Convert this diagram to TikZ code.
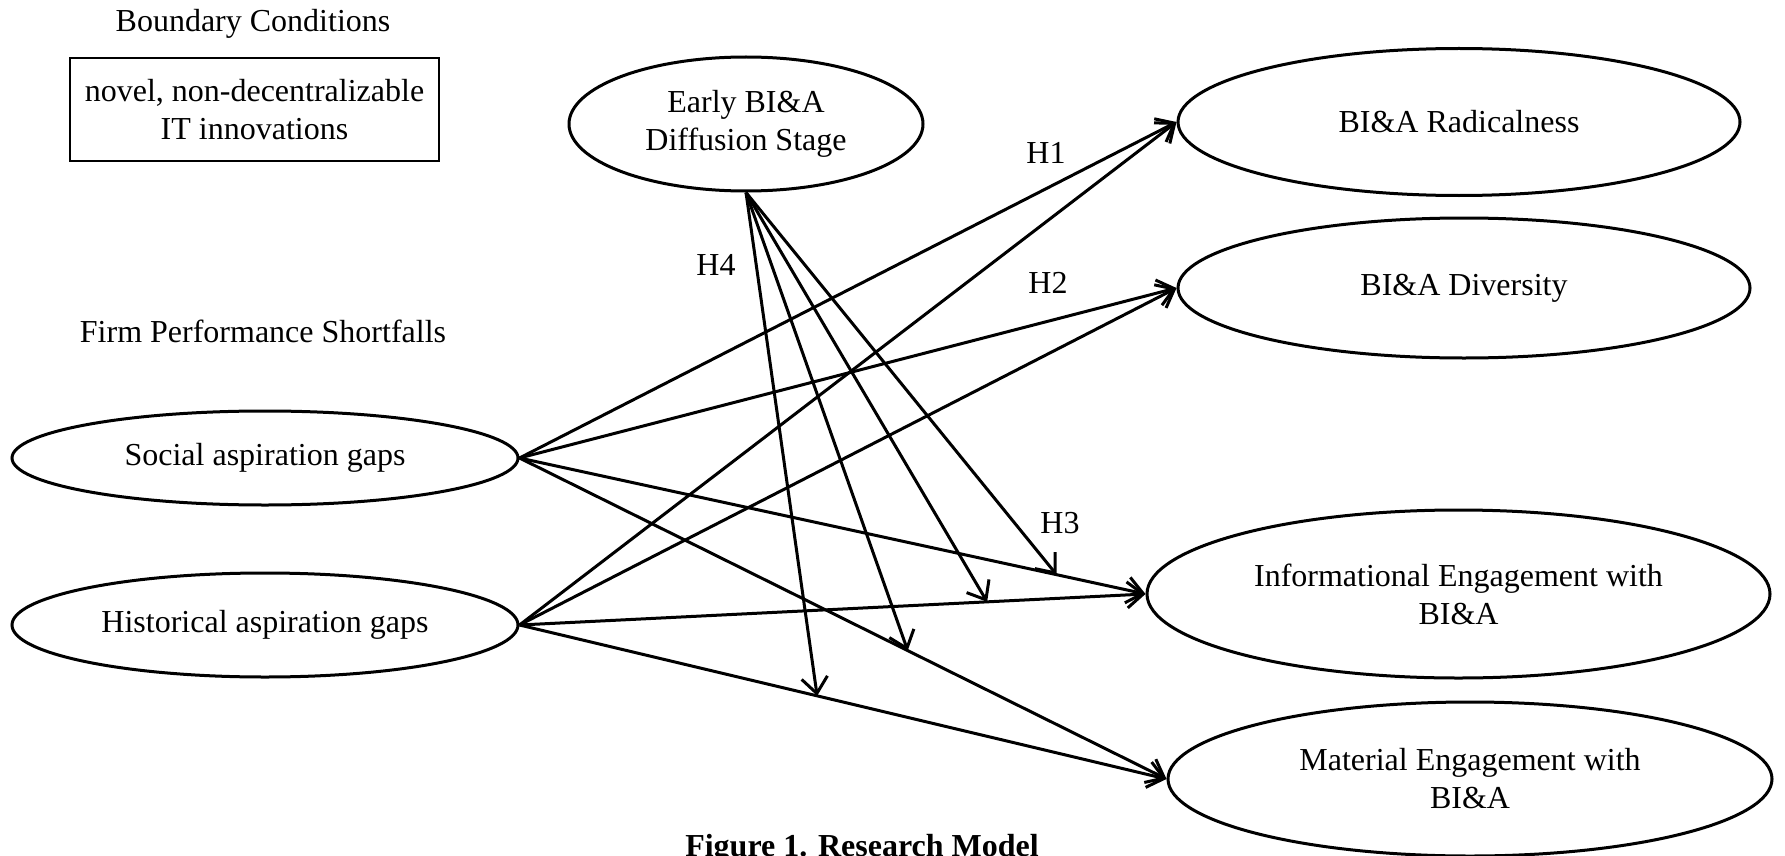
\documentclass[tikz,border=0pt]{standalone}
\usepackage{fontspec}
\setmainfont{Liberation Serif}
\usetikzlibrary{shapes.geometric,arrows.meta,calc}
\begin{document}
\begin{tikzpicture}[x=1pt,y=-1pt,
  every node/.style={font=\fontsize{32}{38}\selectfont, inner sep=0pt},
  oval/.style={ellipse, draw, line width=3pt, align=center},
  bcbox/.style={rectangle, draw, line width=2pt, align=center},
  lbl/.style={},
  link/.style={line width=3pt, -{Straight Barb[length=16pt,width=26pt]}}]
\useasboundingbox (0,0) rectangle (1785,856);

\node[lbl] (bctitle) at (253,24) {Boundary Conditions};
\node[bcbox, minimum width=369pt, minimum height=103pt] (bc) at (254.5,109.5)
  {novel, non-decentralizable\\IT innovations};
\node[lbl] (fps) at (263,331) {Firm Performance Shortfalls};

\node[oval, minimum width=354pt, minimum height=134pt] (early) at (746,124)
  {Early BI\&A\\Diffusion Stage};
\node[oval, minimum width=562pt, minimum height=147pt] (rad) at (1459,122) {BI\&A Radicalness};
\node[oval, minimum width=572pt, minimum height=140pt] (div) at (1464,288) {BI\&A Diversity};
\node[oval, minimum width=623pt, minimum height=168pt] (inf) at (1458.5,594)
  {Informational Engagement with\\BI\&A};
\node[oval, minimum width=604pt, minimum height=154pt] (mat) at (1470,779)
  {Material Engagement with\\BI\&A};
\node[oval, minimum width=506pt, minimum height=94pt] (soc) at (265,458) {Social aspiration gaps};
\node[oval, minimum width=506pt, minimum height=104pt] (his) at (265,625) {Historical aspiration gaps};

\node[lbl] (h1) at (1046,153) {H1};
\node[lbl] (h2) at (1048,283) {H2};
\node[lbl] (h3) at (1060,523) {H3};
\node[lbl] (h4) at (716,265) {H4};

\node[font=\fontsize{32}{38}\selectfont\bfseries, anchor=base] (cap) at (862,856) {Figure 1. Research Model};

\draw[link] (soc.east) -- (rad.west);
\draw[link] (soc.east) -- (div.west);
\draw[link] (soc.east) -- (inf.west);
\draw[link] (soc.east) -- (mat.west);
\draw[link] (his.east) -- (rad.west);
\draw[link] (his.east) -- (div.west);
\draw[link] (his.east) -- (inf.west);
\draw[link] (his.east) -- (mat.west);

\coordinate (p1) at ($(soc.east)!0.858!(inf.west)$);
\coordinate (p2) at ($(his.east)!0.747!(inf.west)$);
\coordinate (p3) at ($(soc.east)!0.600!(mat.west)$);
\coordinate (p4) at ($(his.east)!0.460!(mat.west)$);
\draw[link] (early.south) -- (p1);
\draw[link] (early.south) -- (p2);
\draw[link] (early.south) -- (p3);
\draw[link] (early.south) -- (p4);
\end{tikzpicture}
\end{document}
